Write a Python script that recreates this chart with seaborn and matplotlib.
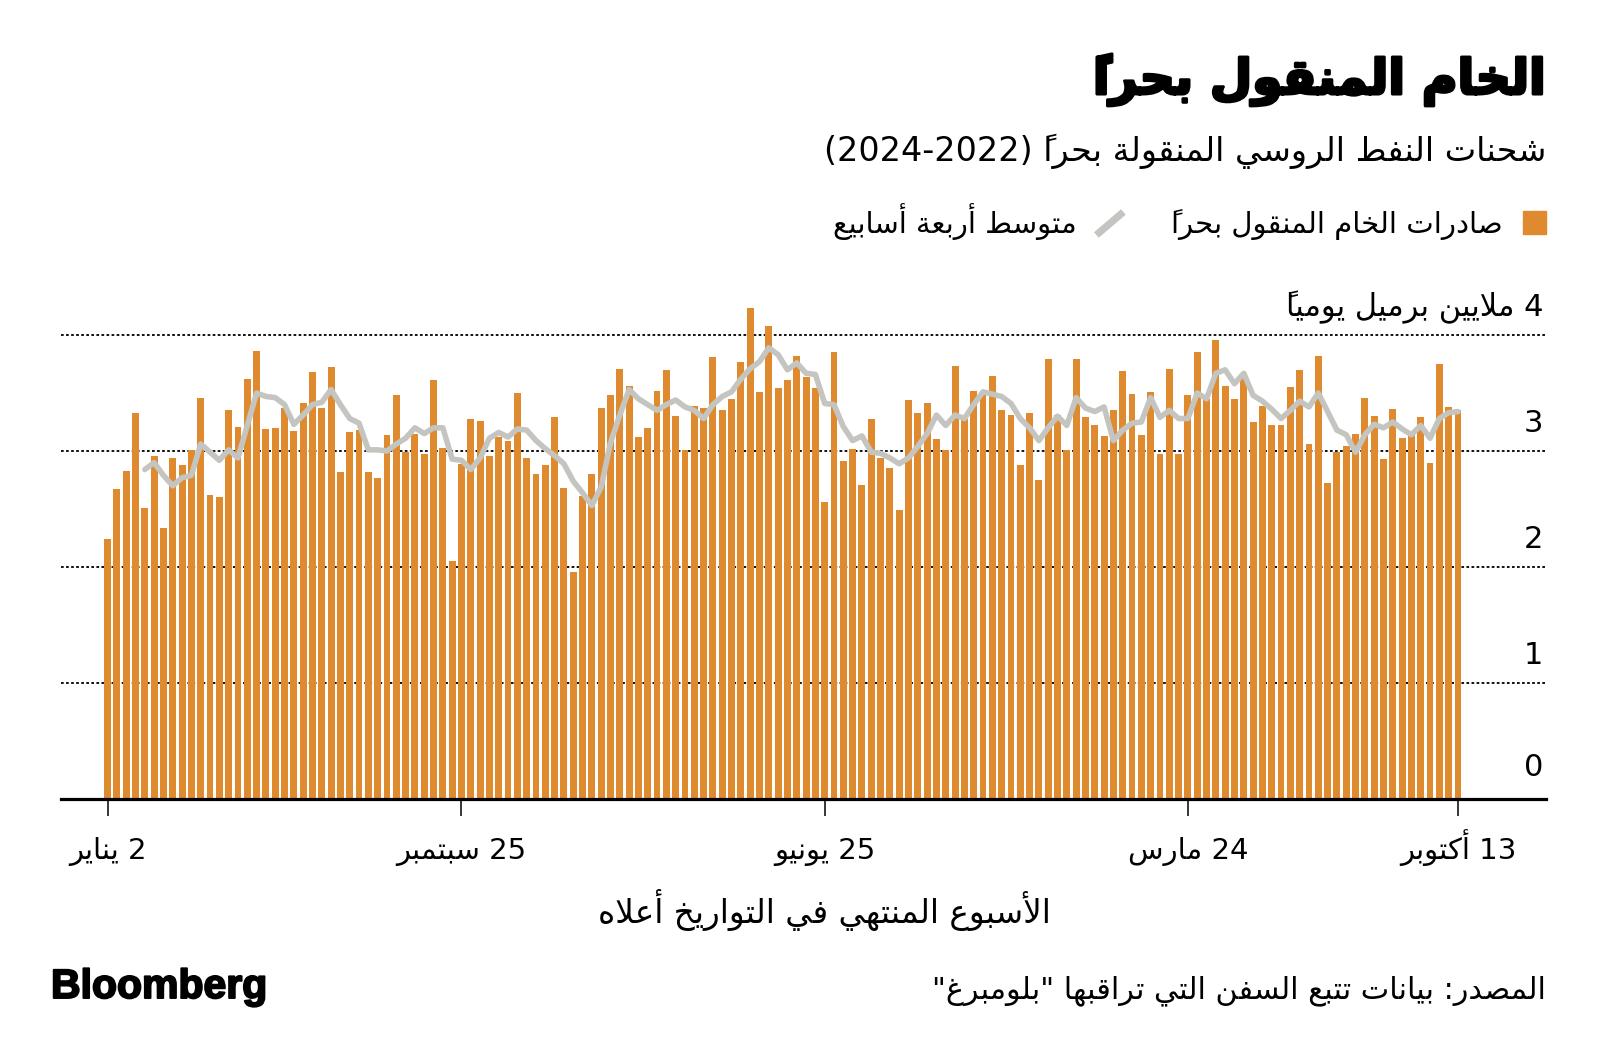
import re
import numpy as np
import pandas as pd
import matplotlib
matplotlib.use("Agg")
import matplotlib.pyplot as plt
import matplotlib.transforms as mtrans
import matplotlib.patheffects as pe
from matplotlib.lines import Line2D
from matplotlib.patches import Rectangle
import seaborn as sns

# ------------------------------------------------------------------ data
exports = [
    2.24, 2.67, 2.83, 3.33, 2.51, 2.96, 2.34, 2.94, 2.88, 3.01,
    3.46, 2.62, 2.60, 3.35, 3.21, 3.62, 3.86, 3.19, 3.20, 3.37,
    3.17, 3.41, 3.68, 3.37, 3.72, 2.82, 3.16, 3.18, 2.82, 2.77,
    3.14, 3.48, 2.99, 3.15, 2.97, 3.61, 3.03, 2.05, 2.89, 3.28,
    3.26, 2.96, 3.12, 3.09, 3.50, 2.94, 2.80, 2.88, 3.29, 2.68,
    1.96, 2.61, 2.80, 3.37, 3.48, 3.71, 3.56, 3.12, 3.20, 3.52,
    3.70, 3.30, 3.01, 3.39, 3.37, 3.81, 3.35, 3.45, 3.77, 4.23,
    3.51, 4.08, 3.54, 3.61, 3.82, 3.64, 3.54, 2.56, 3.85, 2.91,
    3.02, 2.71, 3.28, 2.94, 2.85, 2.49, 3.44, 3.33, 3.41, 3.10,
    3.01, 3.73, 3.28, 3.52, 3.51, 3.65, 3.35, 3.31, 2.88, 3.33,
    2.75, 3.79, 3.31, 3.01, 3.79, 3.29, 3.22, 3.13, 3.35, 3.69,
    3.49, 3.14, 3.51, 2.97, 3.71, 2.97, 3.48, 3.85, 3.45, 3.96,
    3.56, 3.45, 3.65, 3.25, 3.39, 3.22, 3.22, 3.55, 3.70, 3.06,
    3.82, 2.72, 2.99, 3.04, 3.15, 3.46, 3.30, 2.93, 3.36, 3.11,
    3.14, 3.29, 2.90, 3.75, 3.38, 3.35,
]
avg4 = [
    None, None, None, None, 2.84, 2.90, 2.79, 2.70, 2.77, 2.79,
    3.06, 2.99, 2.92, 3.01, 2.94, 3.22, 3.50, 3.47, 3.46, 3.40,
    3.23, 3.31, 3.40, 3.42, 3.53, 3.40, 3.28, 3.24, 3.01, 3.01,
    3.00, 3.06, 3.11, 3.20, 3.15, 3.20, 3.20, 2.93, 2.92, 2.84,
    2.94, 3.11, 3.16, 3.12, 3.19, 3.18, 3.09, 3.02, 2.96, 2.89,
    2.74, 2.64, 2.53, 2.69, 3.07, 3.31, 3.53, 3.45, 3.40, 3.35,
    3.40, 3.44, 3.38, 3.35, 3.28, 3.40, 3.47, 3.51, 3.62, 3.71,
    3.77, 3.89, 3.83, 3.70, 3.76, 3.67, 3.66, 3.41, 3.40, 3.21,
    3.09, 3.13, 2.99, 2.98, 2.94, 2.89, 2.94, 3.04, 3.15, 3.31,
    3.22, 3.31, 3.28, 3.40, 3.51, 3.49, 3.47, 3.41, 3.28, 3.20,
    3.09, 3.20, 3.30, 3.22, 3.46, 3.37, 3.34, 3.38, 3.09, 3.18,
    3.24, 3.25, 3.46, 3.29, 3.35, 3.28, 3.28, 3.50, 3.45, 3.67,
    3.70, 3.58, 3.67, 3.48, 3.43, 3.36, 3.28, 3.35, 3.43, 3.38,
    3.50, 3.34, 3.18, 3.14, 2.99, 3.14, 3.23, 3.20, 3.25, 3.19,
    3.14, 3.22, 3.11, 3.28, 3.33, 3.34,
]
first_week = "2022-01-02"
tick_weeks = ["2022-01-02", "2022-09-25", "2023-06-25", "2024-03-24", "2024-10-13"]
tick_labels = ["2 يناير", "25 سبتمبر", "25 يونيو", "24 مارس", "13 أكتوبر"]
y_levels = [0, 1, 2, 3]

title = "الخام المنقول بحراً"
subtitle = "شحنات النفط الروسي المنقولة بحراً (2022-2024)"
legend_bar = "صادرات الخام المنقول بحراً"
legend_line = "متوسط أربعة أسابيع"
unit_label = "4 ملايين برميل يومياً"
x_title = "الأسبوع المنتهي في التواريخ أعلاه"
source = "المصدر: بيانات تتبع السفن التي تراقبها \"بلومبرغ\""
brand = "Bloomberg"

ORANGE = "#E08A2F"
GRAY = "#C4C4C0"

# ------------------------------------------- minimal Arabic shaping + bidi
_FORMS = {
    0x0621: (0xFE80, None, None, None), 0x0622: (0xFE81, 0xFE82, None, None),
    0x0623: (0xFE83, 0xFE84, None, None), 0x0624: (0xFE85, 0xFE86, None, None),
    0x0625: (0xFE87, 0xFE88, None, None), 0x0626: (0xFE89, 0xFE8A, 0xFE8B, 0xFE8C),
    0x0627: (0xFE8D, 0xFE8E, None, None), 0x0628: (0xFE8F, 0xFE90, 0xFE91, 0xFE92),
    0x0629: (0xFE93, 0xFE94, None, None), 0x062A: (0xFE95, 0xFE96, 0xFE97, 0xFE98),
    0x062B: (0xFE99, 0xFE9A, 0xFE9B, 0xFE9C), 0x062C: (0xFE9D, 0xFE9E, 0xFE9F, 0xFEA0),
    0x062D: (0xFEA1, 0xFEA2, 0xFEA3, 0xFEA4), 0x062E: (0xFEA5, 0xFEA6, 0xFEA7, 0xFEA8),
    0x062F: (0xFEA9, 0xFEAA, None, None), 0x0630: (0xFEAB, 0xFEAC, None, None),
    0x0631: (0xFEAD, 0xFEAE, None, None), 0x0632: (0xFEAF, 0xFEB0, None, None),
    0x0633: (0xFEB1, 0xFEB2, 0xFEB3, 0xFEB4), 0x0634: (0xFEB5, 0xFEB6, 0xFEB7, 0xFEB8),
    0x0635: (0xFEB9, 0xFEBA, 0xFEBB, 0xFEBC), 0x0636: (0xFEBD, 0xFEBE, 0xFEBF, 0xFEC0),
    0x0637: (0xFEC1, 0xFEC2, 0xFEC3, 0xFEC4), 0x0638: (0xFEC5, 0xFEC6, 0xFEC7, 0xFEC8),
    0x0639: (0xFEC9, 0xFECA, 0xFECB, 0xFECC), 0x063A: (0xFECD, 0xFECE, 0xFECF, 0xFED0),
    0x0641: (0xFED1, 0xFED2, 0xFED3, 0xFED4), 0x0642: (0xFED5, 0xFED6, 0xFED7, 0xFED8),
    0x0643: (0xFED9, 0xFEDA, 0xFEDB, 0xFEDC), 0x0644: (0xFEDD, 0xFEDE, 0xFEDF, 0xFEE0),
    0x0645: (0xFEE1, 0xFEE2, 0xFEE3, 0xFEE4), 0x0646: (0xFEE5, 0xFEE6, 0xFEE7, 0xFEE8),
    0x0647: (0xFEE9, 0xFEEA, 0xFEEB, 0xFEEC), 0x0648: (0xFEED, 0xFEEE, None, None),
    0x0649: (0xFEEF, 0xFEF0, None, None), 0x064A: (0xFEF1, 0xFEF2, 0xFEF3, 0xFEF4),
}
_LAMALEF = {0x0622: (0xFEF5, 0xFEF6), 0x0623: (0xFEF7, 0xFEF8),
            0x0625: (0xFEF9, 0xFEFA), 0x0627: (0xFEFB, 0xFEFC)}
_MARKS = set(range(0x064B, 0x0660)) | {0x0670}


def _dual(u):
    if u[0] == "LA":
        return False
    f = _FORMS.get(ord(u[0]))
    return f is not None and f[2] is not None


def _takes_prev(u):
    if u[0] == "LA":
        return True
    f = _FORMS.get(ord(u[0]))
    return f is not None and f[1] is not None


def ar(text):
    units, i, n = [], 0, len(text)
    while i < n:
        c = text[i]
        if ord(c) in _MARKS and units:
            units[-1][1] += c
            i += 1
            continue
        if c == "\u0644":
            j, m = i + 1, ""
            while j < n and ord(text[j]) in _MARKS:
                m += text[j]
                j += 1
            if j < n and ord(text[j]) in _LAMALEF:
                units.append(["LA", m, ord(text[j])])
                i = j + 1
                continue
        units.append([c, "", None])
        i += 1
    out = []
    for k, u in enumerate(units):
        jp = k > 0 and _dual(units[k - 1]) and _takes_prev(u)
        jn = k < len(units) - 1 and _dual(u) and _takes_prev(units[k + 1])
        if u[0] == "LA":
            iso, fin = _LAMALEF[u[2]]
            g = chr(fin if jp else iso)
        elif ord(u[0]) in _FORMS:
            iso, fin, ini, med = _FORMS[ord(u[0])]
            g = chr(med if (jp and jn) else fin if jp else ini if jn else iso)
        else:
            g = u[0]
        # mark placed before its base in visual (left-to-right) order
        out.append(u[1] + g if u[1] else g)
    vis = "".join(reversed(out))
    vis = re.sub(r"[0-9A-Za-z]+", lambda m: m.group(0)[::-1], vis)
    return vis.translate(str.maketrans("()", ")("))


# ------------------------------------------------------------------ figure
sns.set_theme(style="white")
plt.rcParams["font.family"] = ["DejaVu Sans"]
plt.rcParams["text.color"] = "black"

W, H = 1600, 1060
fig = plt.figure(figsize=(W / 100, H / 100), dpi=100)
fig.patch.set_facecolor("white")


def fx(px):
    return px / W


def fy(py):
    return 1 - py / H


PX_PER_UNIT = 116.0
Y_TOP = 4.35
ax = fig.add_axes([fx(61), fy(799), fx(1546) - fx(61), Y_TOP * PX_PER_UNIT / H])
ax.set_facecolor("none")

weeks = pd.date_range(first_week, periods=len(exports), freq="7D")
df = pd.DataFrame({
    "pos": np.arange(len(exports)),
    "week": weeks,
    "exports": exports,
    "avg4": pd.to_numeric(pd.Series(avg4), errors="coerce"),
})

for lvl in [1, 2, 3, 4]:
    ax.axhline(lvl, color="black", lw=1.3, ls=(0, (1.5, 1.3)), zorder=0)

sns.barplot(data=df, x="pos", y="exports", native_scale=True, color=ORANGE,
            saturation=1, width=0.74, linewidth=0, edgecolor="none", ax=ax, zorder=2)
sns.lineplot(data=df.dropna(subset=["avg4"]), x="pos", y="avg4", color=GRAY,
             linewidth=4.0, estimator=None, errorbar=None, ax=ax, zorder=3,
             solid_joinstyle="round", solid_capstyle="round")

ax.set_xlim(-5.0, 154.45)
ax.set_ylim(0, Y_TOP)
for s in ["left", "right", "top"]:
    ax.spines[s].set_visible(False)
ax.spines["bottom"].set_linewidth(2.3)
ax.spines["bottom"].set_color("black")
ax.spines["bottom"].set_zorder(4)

pos_of = {w.strftime("%Y-%m-%d"): p for w, p in zip(df["week"], df["pos"])}
tick_pos = [pos_of[w] for w in tick_weeks]
ax.set_xticks(tick_pos)
ax.set_xticklabels([])
ax.tick_params(axis="x", length=12, width=1.1, color="black", direction="out",
               bottom=True)
ax.set_yticks([])
ax.set_xlabel("")
ax.set_ylabel("")

xtr = mtrans.blended_transform_factory(ax.transData, fig.transFigure)
for p, lab in zip(tick_pos, tick_labels):
    ax.text(p, fy(859), ar(lab), transform=xtr, ha="center", va="baseline",
            fontsize=21)

ytr = mtrans.blended_transform_factory(fig.transFigure, ax.transData)
for lvl in y_levels:
    off = 0.2 if lvl == 0 else 0.165
    ax.text(fx(1543), lvl + off, str(lvl), transform=ytr, ha="right", va="baseline",
            fontsize=22)
ax.text(fx(1543), 4 + 0.165, ar(unit_label), transform=ytr, ha="right", va="baseline",
        fontsize=22)

# titles
fig.text(fx(1545), fy(94), ar(title), ha="right", va="baseline", fontsize=35,
         fontweight="bold",
         path_effects=[pe.withStroke(linewidth=2.2, foreground="black")])
fig.text(fx(1546), fy(161), ar(subtitle), ha="right", va="baseline", fontsize=24)

# legend
fig.patches.append(Rectangle((fx(1523), fy(234)), fx(23), 23 / H, transform=fig.transFigure,
                             color=ORANGE, figure=fig))
t1 = fig.text(fx(1503), fy(233), ar(legend_bar), ha="right", va="baseline", fontsize=21)
fig.canvas.draw()
bb = t1.get_window_extent()
icon_r = bb.x0 - 48
fig.lines.append(Line2D([fx(icon_r - 27), fx(icon_r)], [fy(235), fy(212)],
                        transform=fig.transFigure, color=GRAY, lw=5.2,
                        solid_capstyle="butt", figure=fig))
fig.text(fx(icon_r - 47), fy(233), ar(legend_line), ha="right", va="baseline", fontsize=21)

# axis title and footer
fig.text(fx(824), fy(923), ar(x_title), ha="center", va="baseline", fontsize=23.5)
fig.text(fx(1546), fy(998), ar(source), ha="right", va="baseline", fontsize=21.8)
fig.text(fx(51), fy(998), brand, ha="left", va="baseline", fontsize=29.5,
         fontweight="bold", family=["Liberation Sans", "DejaVu Sans"],
         path_effects=[pe.withStroke(linewidth=1.4, foreground="black")])

fig.savefig("out.png", dpi=100, facecolor="white")
